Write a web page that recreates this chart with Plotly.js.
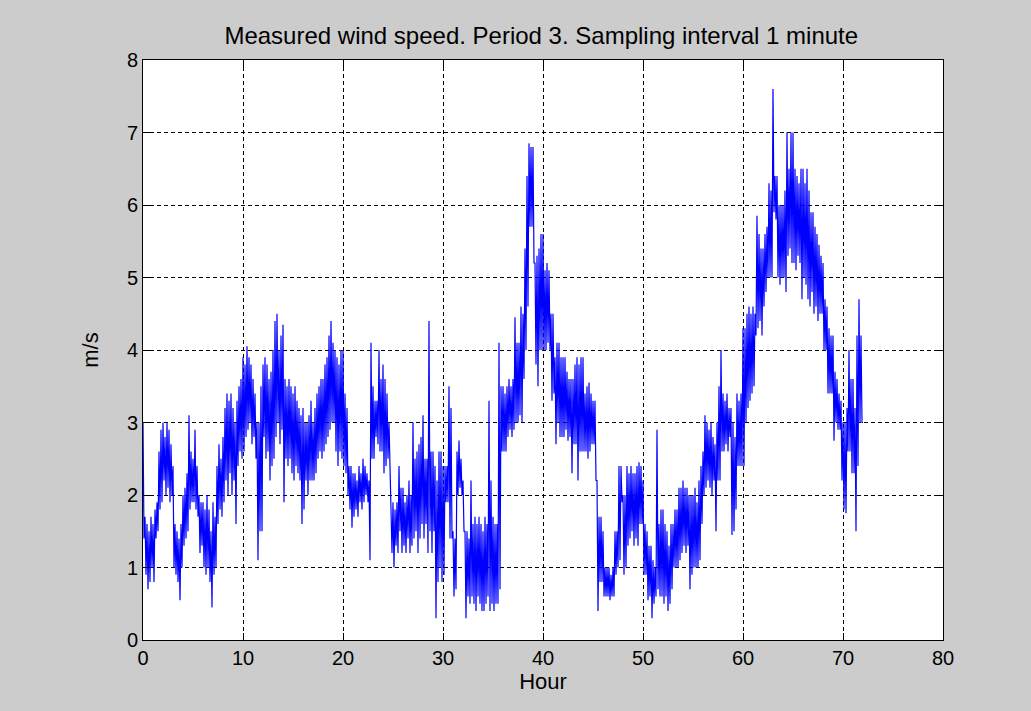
<!DOCTYPE html>
<html>
<head>
<meta charset="utf-8">
<script src="https://cdn.plot.ly/plotly-3.0.1.min.js"></script>
<style>html,body{margin:0;padding:0;background:#cccccc;}#chart{width:1031px;height:711px;}</style>
</head>
<body>
<div id="chart"></div>
<script>
// Sampling grid of the values (hours)
const sampleStepHours = 0.1;
// Wind speed (m/s), one value every 0.1 h, from hour 0 to 72 (one row per hour)
const windSpeed = [
  3.0,1.4, 1.7,0.9, 1.6,0.7, 1.5,0.8, 1.7,1.0,
  1.6,0.8, 1.8,1.4, 1.9,1.5, 2.6,1.8, 2.9,1.9,
  3.0,2.2, 2.8,2.0, 3.0,2.1, 2.9,1.9, 2.7,2.0,
  2.4,1.0, 1.6,0.9, 1.5,0.8, 1.4,0.55, 1.6,1.0,
  2.0,1.3, 2.1,1.4, 2.3,1.5, 3.1,1.8, 2.6,1.9,
  2.5,1.9, 2.9,1.8, 2.4,1.7, 2.0,1.2, 1.9,1.3,
  1.9,1.0, 1.8,0.9, 2.0,1.0, 1.8,0.8, 1.5,0.45,
  1.9,0.9, 1.7,1.0, 2.4,1.6, 2.7,1.8, 2.5,1.7,
  2.8,1.9, 3.2,2.2, 3.4,2.0, 3.3,2.3, 3.4,2.0,
  3.2,2.2, 3.0,1.6, 3.3,2.4, 3.5,2.6, 3.6,2.5,
  3.9,2.6, 3.8,2.8, 4.05,2.9, 3.9,3.0, 3.8,2.7,
  3.6,2.8, 3.4,2.5, 3.0,1.1, 3.0,1.5, 3.5,1.5,
  3.8,2.8, 3.9,2.5, 3.8,2.6, 3.6,2.2, 3.7,2.4,
  4.0,2.5, 4.4,2.8, 4.5,3.0, 4.0,2.7, 4.2,2.9,
  4.35,1.9, 3.6,2.5, 3.5,2.4, 3.6,2.5, 3.5,2.3,
  3.4,2.2, 3.5,2.4, 3.3,2.3, 3.2,2.2, 3.1,1.6,
  3.2,1.8, 3.0,2.2, 3.0,2.0, 3.1,2.2, 3.3,2.2,
  3.0,2.2, 3.2,2.3, 3.4,2.5, 3.5,2.6, 3.6,2.5,
  3.6,2.6, 3.8,2.7, 3.9,2.8, 4.2,2.9, 4.4,3.0,
  4.1,3.0, 4.0,2.6, 3.9,2.4, 3.8,2.6, 4.0,2.5,
  4.0,2.4, 3.4,2.3, 3.2,2.0, 2.4,1.8, 2.4,1.55,
  2.3,1.7, 2.3,1.8, 2.2,1.7, 2.4,1.9, 2.3,1.8,
  2.5,1.9, 2.4,2.0, 2.3,1.9, 2.2,1.1, 4.1,2.5,
  3.5,2.5, 3.3,2.8, 3.3,2.7, 4.0,2.6, 3.6,2.6,
  3.8,2.3, 3.6,2.4, 3.4,2.5, 3.0,2.3, 2.0,1.2,
  1.9,1.0, 1.8,1.3, 1.9,1.2, 2.4,1.5, 2.1,1.2,
  2.1,1.3, 1.9,1.2, 2.0,1.4, 2.2,1.2, 2.0,1.3,
  3.0,1.4, 2.5,1.5, 2.6,1.2, 2.7,1.4, 2.8,1.6,
  3.1,1.4, 2.5,1.6, 2.5,1.2, 4.4,1.5, 2.6,1.2,
  2.6,1.5, 2.4,0.3, 2.2,0.8, 2.6,1.0, 2.6,0.8,
  2.4,0.9, 2.4,1.9, 2.4,1.9, 3.5,1.4, 3.2,1.4,
  1.5,0.6, 1.4,0.7, 2.6,2.0, 2.75,2.1, 2.5,2.0,
  2.2,1.5, 1.5,0.3, 1.5,0.6, 1.4,0.5, 2.2,0.6,
  1.6,0.5, 1.7,0.4, 1.6,0.6, 1.7,0.5, 1.6,0.4,
  1.5,0.4, 1.7,0.5, 1.6,0.6, 3.3,0.4, 2.2,0.5,
  1.7,0.4, 1.6,0.5, 1.6,0.5, 4.1,0.7, 3.5,2.6,
  3.5,2.6, 3.4,2.6, 3.5,2.8, 3.6,2.9, 3.5,2.8,
  3.6,2.9, 4.45,3.0, 4.1,3.0, 4.1,3.1, 4.6,3.0,
  4.5,3.6, 5.4,4.0, 6.4,4.6, 6.85,5.7, 6.8,5.7,
  6.8,5.2, 5.2,3.8, 5.3,3.5, 5.4,4.0, 5.6,4.0,
  5.6,4.0, 5.1,4.0, 5.2,4.1, 5.1,4.0, 4.5,3.3,
  4.5,3.4, 3.9,2.7, 4.1,3.0, 4.1,2.8, 3.9,2.8,
  3.9,2.8, 3.9,2.9, 3.7,2.75, 3.6,2.8, 3.6,2.3,
  3.6,2.7, 3.8,2.7, 3.9,2.2, 3.8,2.6, 3.9,2.6,
  3.9,2.6, 3.4,2.6, 3.5,2.5, 3.55,2.6, 3.4,2.7,
  3.3,2.7, 3.3,2.2, 2.2,0.4, 1.7,0.8, 1.7,0.8,
  1.5,0.6, 1.0,0.6, 1.0,0.6, 1.0,0.55, 0.9,0.6,
  1.0,0.6, 1.5,0.9, 1.5,1.0, 2.4,1.1, 2.4,1.9,
  2.0,0.9, 2.0,1.0, 2.4,1.3, 2.3,1.4, 2.4,1.5,
  2.3,1.3, 2.3,1.4, 2.4,1.3, 2.45,1.6, 2.4,1.6,
  2.2,0.9, 1.6,0.9, 1.5,0.55, 1.3,0.6, 1.3,0.3,
  1.1,0.5, 1.0,0.6, 2.9,0.7, 1.6,0.6, 1.8,0.6,
  1.8,0.5, 1.6,0.6, 1.5,0.4, 1.3,0.5, 1.6,0.7,
  1.6,1.0, 1.8,1.0, 1.8,1.0, 2.1,1.1, 2.1,1.2,
  2.2,1.3, 2.1,1.2, 2.1,1.3, 2.0,0.7, 2.0,0.9,
  2.0,1.0, 2.1,1.0, 1.9,1.0, 2.2,1.1, 2.4,1.6,
  2.6,2.0, 3.1,2.1, 3.0,2.2, 2.9,2.1, 3.0,2.0,
  2.8,2.2, 2.7,1.5, 3.0,2.2, 3.5,2.2, 4.0,2.6,
  3.4,2.6, 3.3,2.7, 3.4,2.6, 3.2,2.8, 3.2,1.45,
  3.0,1.5, 2.8,1.8, 3.4,2.4, 3.3,2.4, 3.4,2.4,
  4.3,2.4, 4.3,3.0, 4.5,3.2, 4.6,3.3, 4.5,3.4,
  4.6,3.5, 4.5,4.2, 5.85,4.3, 5.6,4.4, 5.4,4.2,
  5.4,4.6, 5.6,4.8, 5.7,5.0, 6.3,5.0, 6.2,5.0,
  7.6,5.9, 6.4,5.8, 6.4,5.0, 6.0,4.9, 6.0,5.0,
  6.0,5.0, 6.2,4.8, 7.0,5.3, 6.5,5.4, 7.0,5.2,
  7.0,5.2, 6.5,5.1, 6.4,5.3, 6.3,5.2, 6.5,4.7,
  6.5,5.0, 6.3,4.9, 6.5,4.7, 6.2,4.6, 5.9,4.8,
  5.9,4.5, 5.7,4.6, 5.6,4.4, 5.45,4.5, 5.3,4.5,
  5.2,4.0, 4.7,4.0, 4.6,3.4, 4.3,3.4, 4.2,3.4,
  4.2,2.75, 3.7,3.0, 3.6,2.9, 3.4,2.9, 3.3,2.2,
  3.0,1.8, 3.0,1.75, 3.2,2.6, 4.0,2.6, 3.6,2.3,
  3.6,2.3, 3.2,1.5, 4.2,2.4, 4.7,3.0, 4.2,3.0,
  3.0
];
const xTickValues = [0, 10, 20, 30, 40, 50, 60, 70, 80];
const yTickValues = [0, 1, 2, 3, 4, 5, 6, 7, 8];
const hours = windSpeed.map((_, i) => +(i * sampleStepHours).toFixed(2));

const font = {family: 'Arial, "Liberation Sans", sans-serif', size: 20, color: '#000'};
const titleFont = {family: 'Arial, "Liberation Sans", sans-serif', size: 24, color: '#000'};
const axisTitleFont = {family: 'Arial, "Liberation Sans", sans-serif', size: 22, color: '#000'};
const axisCommon = {
  showline: true, linecolor: '#000', linewidth: 1, mirror: 'ticks',
  ticks: 'inside', ticklen: 7, tickcolor: '#000', tickwidth: 1,
  showgrid: true, gridcolor: '#000', gridwidth: 1, griddash: '4px,3px',
  zeroline: false, tickfont: font, fixedrange: true
};

Plotly.newPlot('chart', [{
  x: hours, y: windSpeed, type: 'scatter', mode: 'lines',
  line: {color: '#0000ff', width: 1.2}, hoverinfo: 'skip'
}], {
  width: 1031, height: 711,
  paper_bgcolor: '#cccccc', plot_bgcolor: '#ffffff',
  margin: {l: 143, r: 88, t: 60, b: 71, pad: 0},
  showlegend: false,
  font: font,
  title: {text: 'Measured wind speed. Period 3. Sampling interval 1 minute', font: titleFont,
          x: 0.525, xanchor: 'center', y: 1 - 36/711, yref: 'container', yanchor: 'middle'},
  xaxis: Object.assign({}, axisCommon, {range: [0, 80], tickvals: xTickValues,
          title: {text: 'Hour', font: axisTitleFont, standoff: 5}}),
  yaxis: Object.assign({}, axisCommon, {range: [0, 8], tickvals: yTickValues,
          title: {text: 'm/s', font: axisTitleFont, standoff: 22}})
}, {staticPlot: true});
</script>
</body>
</html>
